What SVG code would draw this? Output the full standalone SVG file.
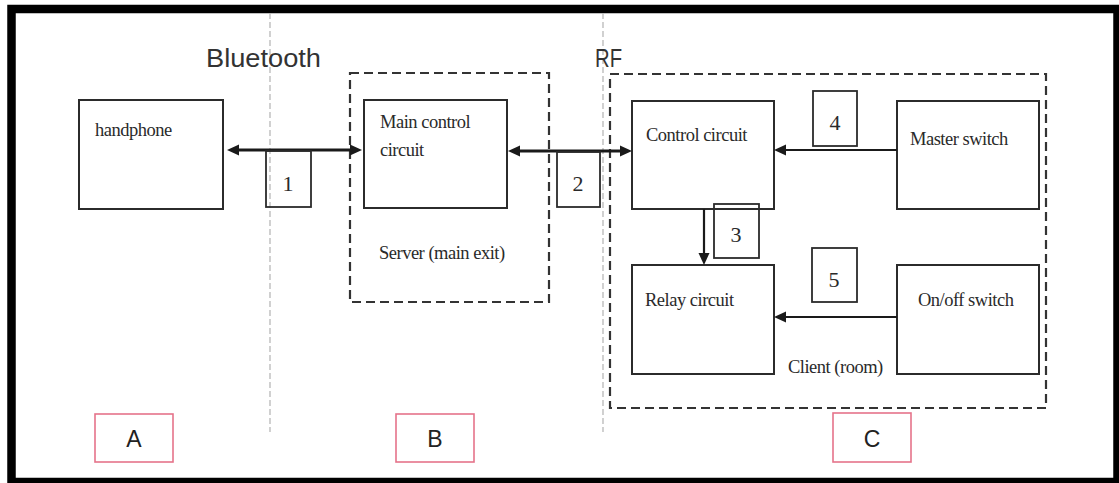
<svg xmlns="http://www.w3.org/2000/svg" width="1119" height="483" viewBox="0 0 1119 483">
<style>
.box{fill:none;stroke:#2b2b2b;stroke-width:2}
.nbox{fill:none;stroke:#2b2b2b;stroke-width:1.8}
.dash{fill:none;stroke:#333;stroke-width:2.2;stroke-dasharray:9 5}
.sep{stroke:#b8b8b8;stroke-width:1.3;stroke-dasharray:6 3}
.lbl{fill:none;stroke:#e5738a;stroke-width:1.6}
.serif{font-family:"Liberation Serif","Times New Roman",serif;font-size:18.5px;fill:#2a2a2a;letter-spacing:-0.5px}
.num{font-family:"Liberation Serif","Times New Roman",serif;font-size:22px;fill:#2a2a2a;text-anchor:middle}
.sans{font-family:"Liberation Sans",Arial,sans-serif;fill:#333}
.cap{font-family:"Liberation Sans",Arial,sans-serif;font-size:23px;fill:#222;text-anchor:middle}
.thick{stroke:#1a1a1a;stroke-width:3;fill:none}
.thin{stroke:#1a1a1a;stroke-width:2.2;fill:none}
</style>
<defs>
<marker id="ah" markerUnits="userSpaceOnUse" markerWidth="14" markerHeight="12" refX="2" refY="6" orient="auto-start-reverse">
<path d="M0,0.5 L12,6 L0,11.5 z" fill="#1a1a1a"/>
</marker>
</defs>
<rect x="0" y="0" width="1119" height="483" fill="#fff"/>
<rect id="frame" x="11.5" y="9" width="1106" height="473" fill="none" stroke="#000" stroke-width="8.5"/>
<g id="separators">
<line class="sep" x1="270" y1="13" x2="270" y2="432"/>
<line class="sep" x1="603" y1="13" x2="603" y2="432"/>
</g>
<text class="sans" x="206" y="67" font-size="25" textLength="115" lengthAdjust="spacingAndGlyphs">Bluetooth</text>
<text class="sans" x="595" y="67" font-size="25" textLength="27" lengthAdjust="spacingAndGlyphs">RF</text>
<g id="server">
<rect class="dash" x="350" y="73" width="199" height="229"/>
<text class="serif" x="379" y="259">Server (main exit)</text>
</g>
<g id="client">
<rect class="dash" x="610" y="74" width="436" height="334"/>
<text class="serif" x="788" y="373">Client (room)</text>
</g>
<g id="handphone">
<rect class="box" x="79" y="100" width="144" height="109"/>
<text class="serif" x="95" y="136">handphone</text>
</g>
<g id="main-control">
<rect class="box" x="364" y="100" width="143" height="108"/>
<text class="serif" x="380" y="128">Main control</text>
<text class="serif" x="380" y="156">circuit</text>
</g>
<g id="control-circuit">
<rect class="box" x="632" y="101" width="142" height="108"/>
<text class="serif" x="646" y="141">Control circuit</text>
</g>
<g id="master-switch">
<rect class="box" x="897" y="101" width="142" height="108"/>
<text class="serif" x="910" y="145">Master switch</text>
</g>
<g id="relay-circuit">
<rect class="box" x="632" y="265" width="142" height="109"/>
<text class="serif" x="645" y="306">Relay circuit</text>
</g>
<g id="onoff-switch">
<rect class="box" x="897" y="265" width="142" height="109"/>
<text class="serif" x="918" y="306">On/off switch</text>
</g>
<g id="connectors">
<line class="thick" x1="237" y1="150" x2="352" y2="150" marker-start="url(#ah)" marker-end="url(#ah)"/>
<line class="thick" x1="518" y1="151" x2="622" y2="151" marker-start="url(#ah)" marker-end="url(#ah)"/>
<line class="thin" x1="897" y1="150" x2="784" y2="150" marker-end="url(#ah)"/>
<line class="thin" x1="704" y1="209" x2="704" y2="255" marker-end="url(#ah)"/>
<line class="thin" x1="897" y1="317" x2="784" y2="317" marker-end="url(#ah)"/>
</g>
<g id="n1"><rect class="nbox" x="266" y="151" width="45" height="56"/><text class="num" x="288" y="191">1</text></g>
<g id="n2"><rect class="nbox" x="557" y="152" width="43" height="55"/><text class="num" x="578" y="191">2</text></g>
<g id="n3"><rect class="nbox" x="714" y="204" width="45" height="54"/><text class="num" x="736" y="242">3</text></g>
<g id="n4"><rect class="nbox" x="813" y="91" width="44" height="55"/><text class="num" x="835" y="130">4</text></g>
<g id="n5"><rect class="nbox" x="812" y="248" width="45" height="54"/><text class="num" x="834" y="287">5</text></g>
<g id="labelA"><rect class="lbl" x="95" y="414" width="78" height="48"/><text class="cap" x="134" y="447">A</text></g>
<g id="labelB"><rect class="lbl" x="396" y="414" width="78" height="48"/><text class="cap" x="435" y="447">B</text></g>
<g id="labelC"><rect class="lbl" x="833" y="413" width="78" height="49"/><text class="cap" x="872" y="447">C</text></g>
</svg>
